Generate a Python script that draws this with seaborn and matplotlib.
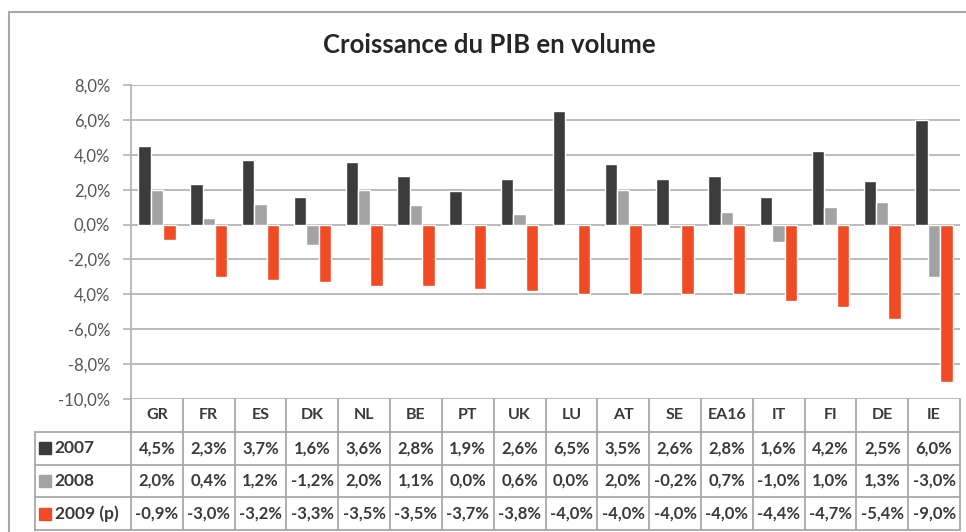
import matplotlib
matplotlib.use("Agg")
import matplotlib.pyplot as plt
from matplotlib.patches import Rectangle
import numpy as np
import pandas as pd
import seaborn as sns

pays = ["GR", "FR", "ES", "DK", "NL", "BE", "PT", "UK", "LU", "AT",
        "SE", "EA16", "IT", "FI", "DE", "IE"]
v2007 = [4.5, 2.3, 3.7, 1.6, 3.6, 2.8, 1.9, 2.6, 6.5, 3.5, 2.6, 2.8, 1.6, 4.2, 2.5, 6.0]
v2008 = [2.0, 0.4, 1.2, -1.2, 2.0, 1.1, 0.0, 0.6, 0.0, 2.0, -0.2, 0.7, -1.0, 1.0, 1.3, -3.0]
v2009 = [-0.9, -3.0, -3.2, -3.3, -3.5, -3.5, -3.7, -3.8, -4.0, -4.0, -4.0, -4.0, -4.4, -4.7, -5.4, -9.0]
series = ["2007", "2008", "2009 (p)"]
y_ticks = [-10, -8, -6, -4, -2, 0, 2, 4, 6, 8]
y_tick_labels = ["-10,0%", "-8,0%", "-6,0%", "4,0%", "-2,0%", "0,0%", "2,0%", "4,0%", "6,0%", "8,0%"]

colors = ["#3b3b3d", "#a3a3a3", "#f04b23"]
GRID = "#b4b4b4"
TXT = "#3a3a3a"


def fmt(v):
    return f"{v:.1f}%".replace(".", ",")


def main():
    df = pd.DataFrame({
        "pays": pays * 3,
        "valeur": v2007 + v2008 + v2009,
        "annee": [s for s in series for _ in pays],
    })

    sns.set_style("white")
    plt.rcParams["font.family"] = ["Lato", "DejaVu Sans"]

    W, H = 966, 532
    fig = plt.figure(figsize=(W / 100, H / 100), dpi=100)

    # plot area in pixel terms
    left, right, top, bottom = 131, 960, 85, 399
    ax = fig.add_axes([left / W, 1 - bottom / H, (right - left) / W, (bottom - top) / H])
    sns.barplot(data=df, x="pays", y="valeur", hue="annee", palette=colors,
                width=0.72, gap=0, saturation=1, legend=False, ax=ax, zorder=3)
    ax.set_xlim(-0.5, len(pays) - 0.5)
    ax.set_ylim(-10, 8)
    ax.set_yticks(y_ticks)
    ax.set_yticklabels(y_tick_labels, color="#555555", fontsize=12)
    ax.set_xticks([])
    ax.set_xlabel("")
    ax.set_ylabel("")
    for yv in y_ticks:
        ax.axhline(yv, color=GRID, lw=1.3, zorder=1)
    for s in ["top", "right", "bottom"]:
        ax.spines[s].set_visible(False)
    ax.spines["left"].set_color(GRID)
    ax.spines["left"].set_linewidth(1.3)
    ax.tick_params(axis="y", direction="out", length=6, width=1.2, color=GRID, pad=9)
    ax.tick_params(axis="y", left=True)

    # data table underneath
    unit = (right - left) / len(pays)
    tleft, tright, ttop, tbot = 35, 960, 399, 530
    axt = fig.add_axes([tleft / W, 1 - tbot / H, (tright - tleft) / W, (tbot - ttop) / H])
    x0 = -0.5 - (left - tleft) / unit
    axt.set_xlim(x0, len(pays) - 0.5)
    axt.set_ylim(0, 4)
    axt.axis("off")

    lc = "#a8a8a8"
    for i in range(len(pays) + 1):
        axt.plot([i - 0.5, i - 0.5], [0, 4], color=lc, lw=1.3, clip_on=False)
    for r in range(4):
        axt.plot([x0, len(pays) - 0.5], [r, r], color=lc, lw=1.3, clip_on=False)
    axt.plot([x0, x0], [0, 3], color=lc, lw=1.3, clip_on=False)

    for i, p in enumerate(pays):
        axt.text(i, 3.5, p, ha="center", va="center", fontsize=11.5,
                 fontweight="bold", color=TXT)
    for r, (name, vals, c) in enumerate(zip(series, [v2007, v2008, v2009], colors)):
        yc = 2.5 - r
        axt.plot(x0 + 0.2, yc, marker="s", ms=8, color=c, clip_on=False)
        axt.text(x0 + 0.38, yc, name, ha="left", va="center", fontsize=12.5,
                 fontweight="bold", color=TXT)
        for i, v in enumerate(vals):
            axt.text(i, yc, fmt(v), ha="center", va="center", fontsize=12,
                     fontweight="bold", color=TXT)

    fig.text(0.507, 1 - 45 / H, "Croissance du PIB en volume", ha="center",
             va="center", fontsize=18.5, fontweight="bold", color="#262626")

    fig.patches.append(Rectangle((9 / W, -0.05), 1.1, 1.05 - 12 / H, fill=False,
                                 edgecolor="#a8a8a8", lw=1.5,
                                 transform=fig.transFigure, figure=fig))

    fig.savefig("out.png", dpi=100)
    plt.close(fig)


if __name__ == "__main__":
    main()
